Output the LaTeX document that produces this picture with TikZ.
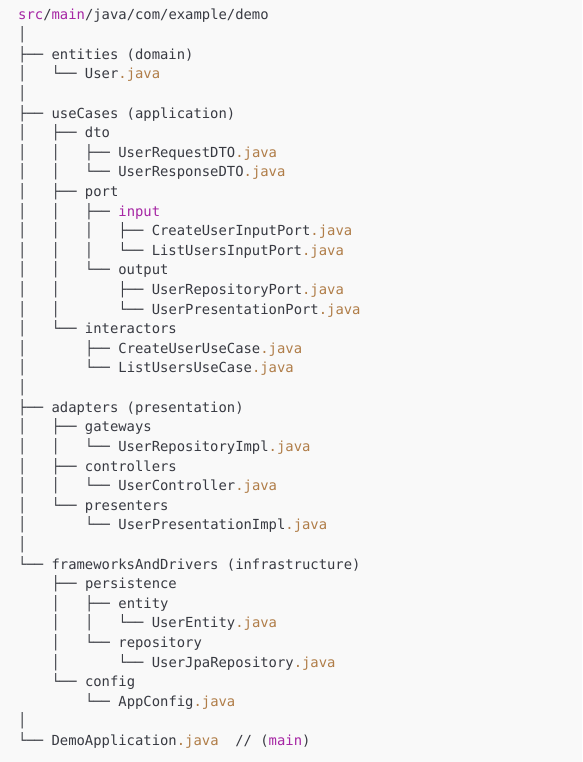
\documentclass[tikz,border=0pt]{standalone}
\usepackage{fontspec}
\setmonofont{DejaVu Sans Mono}
\usetikzlibrary{positioning}

\definecolor{codebg}{HTML}{F9F9F9}
\definecolor{codetxt}{HTML}{383A42}
\definecolor{pathclr}{HTML}{A626A4}
\definecolor{javaclr}{HTML}{B07D48}

% tree pieces, each four columns wide
\newcommand{\trVert}{│~~~}
\newcommand{\trSkip}{~~~~}
\newcommand{\trTee}{├──~}
\newcommand{\trEnd}{└──~}
\newcommand{\jext}{\textcolor{javaclr}{.java}}
\newcommand{\pth}[1]{\textcolor{pathclr}{#1}}

\begin{document}
\begin{tikzpicture}[row/.style={anchor=base west,inner sep=0pt,text=codetxt,font=\ttfamily\fontsize{13.87pt}{19.61pt}\selectfont},
	next/.style={below=19.61pt of #1.base west,anchor=base west}]
		
		\fill[codebg] (0,0) rectangle (582pt,-762pt);
		\useasboundingbox (0,0) rectangle (582pt,-762pt);
		
		\node[row] (l01) at (18pt,-20pt) {\pth{src}/\pth{main}/java/com/example/demo};
		\node[row,next=l01] (l02) {│};
		\node[row,next=l02] (l03) {\trTee entities~(domain)};
		\node[row,next=l03] (l04) {\trVert\trEnd User\jext};
		\node[row,next=l04] (l05) {│};
		\node[row,next=l05] (l06) {\trTee useCases~(application)};
		\node[row,next=l06] (l07) {\trVert\trTee dto};
		\node[row,next=l07] (l08) {\trVert\trVert\trTee UserRequestDTO\jext};
		\node[row,next=l08] (l09) {\trVert\trVert\trEnd UserResponseDTO\jext};
		\node[row,next=l09] (l10) {\trVert\trTee port};
		\node[row,next=l10] (l11) {\trVert\trVert\trTee \pth{input}};
		\node[row,next=l11] (l12) {\trVert\trVert\trVert\trTee CreateUserInputPort\jext};
		\node[row,next=l12] (l13) {\trVert\trVert\trVert\trEnd ListUsersInputPort\jext};
		\node[row,next=l13] (l14) {\trVert\trVert\trEnd output};
		\node[row,next=l14] (l15) {\trVert\trVert\trSkip\trTee UserRepositoryPort\jext};
		\node[row,next=l15] (l16) {\trVert\trVert\trSkip\trEnd UserPresentationPort\jext};
		\node[row,next=l16] (l17) {\trVert\trEnd interactors};
		\node[row,next=l17] (l18) {\trVert\trSkip\trTee CreateUserUseCase\jext};
		\node[row,next=l18] (l19) {\trVert\trSkip\trEnd ListUsersUseCase\jext};
		\node[row,next=l19] (l20) {│};
		\node[row,next=l20] (l21) {\trTee adapters~(presentation)};
		\node[row,next=l21] (l22) {\trVert\trTee gateways};
		\node[row,next=l22] (l23) {\trVert\trVert\trEnd UserRepositoryImpl\jext};
		\node[row,next=l23] (l24) {\trVert\trTee controllers};
		\node[row,next=l24] (l25) {\trVert\trVert\trEnd UserController\jext};
		\node[row,next=l25] (l26) {\trVert\trEnd presenters};
		\node[row,next=l26] (l27) {\trVert\trSkip\trEnd UserPresentationImpl\jext};
		\node[row,next=l27] (l28) {│};
		\node[row,next=l28] (l29) {\trEnd frameworksAndDrivers~(infrastructure)};
		\node[row,next=l29] (l30) {\trSkip\trTee persistence};
		\node[row,next=l30] (l31) {\trSkip\trVert\trTee entity};
		\node[row,next=l31] (l32) {\trSkip\trVert\trVert\trEnd UserEntity\jext};
		\node[row,next=l32] (l33) {\trSkip\trVert\trEnd repository};
		\node[row,next=l33] (l34) {\trSkip\trVert\trSkip\trEnd UserJpaRepository\jext};
		\node[row,next=l34] (l35) {\trSkip\trEnd config};
		\node[row,next=l35] (l36) {\trSkip\trSkip\trEnd AppConfig\jext};
		\node[row,next=l36] (l37) {│};
		\node[row,next=l37] (l38) {\trEnd DemoApplication\jext~~//~(\pth{main})};
		
		\end{tikzpicture}
\end{document}
